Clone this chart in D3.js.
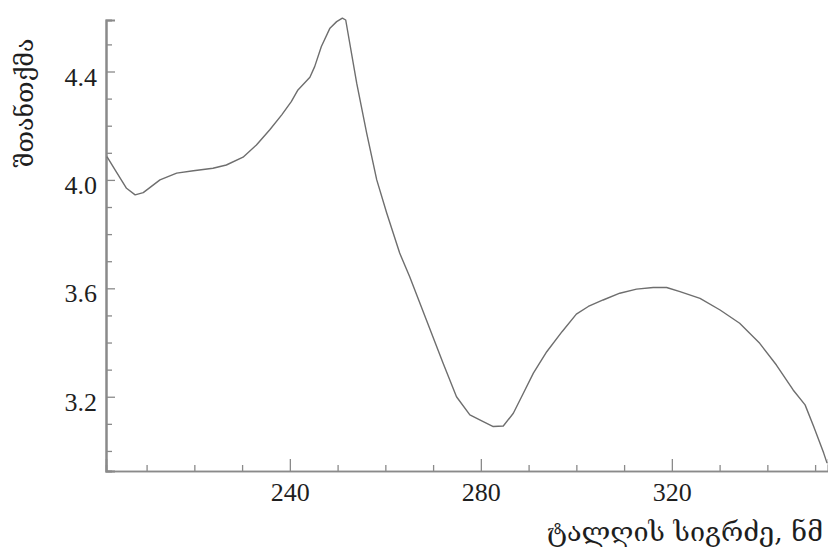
<!DOCTYPE html>
<html>
<head>
<meta charset="utf-8">
<script src="https://cdn.jsdelivr.net/npm/d3@7"></script>
<style>
  html, body { margin: 0; padding: 0; background: #fff; }
  svg { display: block; }
</style>
</head>
<body>
<svg id="chart" width="828" height="552"></svg>
<script>
// ---- data ----
const wavelength = [201.7, 203.4, 205.8, 207.6, 209.3, 212.8, 216.3, 219.8, 223.9, 226.7,
  230.2, 233.0, 235.8, 238.3, 240.3, 241.7, 244.2, 245.2, 246.6, 248.4,
  249.8, 251.0, 251.7, 254.0, 256.1, 258.2, 260.3, 263.0, 265.1, 268.6,
  272.1, 274.9, 277.7, 280.5, 282.6, 284.7, 286.8, 288.9, 291.0, 293.8,
  297.0, 300.0, 302.5, 305.6, 309.1, 312.6, 316.1, 318.9, 321.7, 325.9,
  330.1, 334.2, 338.4, 341.9, 345.4, 347.9, 349.7, 351.8, 352.5];
const absorbance = [4.086, 4.037, 3.969, 3.945, 3.953, 4.000, 4.025, 4.034, 4.043, 4.055,
  4.084, 4.129, 4.185, 4.240, 4.289, 4.332, 4.379, 4.418, 4.492, 4.560,
  4.584, 4.597, 4.590, 4.357, 4.172, 4.000, 3.877, 3.730, 3.643, 3.483,
  3.324, 3.200, 3.133, 3.108, 3.090, 3.092, 3.139, 3.213, 3.287, 3.366,
  3.440, 3.505, 3.533, 3.557, 3.582, 3.597, 3.603, 3.603, 3.588, 3.563,
  3.520, 3.471, 3.397, 3.317, 3.225, 3.170, 3.090, 2.992, 2.955];
const xMajorTicks = [240, 280, 320];
const xMinorTicks = [210, 220, 230, 250, 260, 270, 290, 300, 310, 330, 340, 350];
const yMajorTicks = [3.2, 3.6, 4.0, 4.4];
const yMinorTicks = [3.0, 3.1, 3.3, 3.4, 3.5, 3.7, 3.8, 3.9, 4.1, 4.2, 4.3, 4.5];
const xTitle = "ტალღის სიგრძე, ნმ";
const yTitle = "შთანთქმა";

// ---- layout ----
const svg = d3.select("#chart");
const plotLeft = 106, plotRight = 828, plotTop = 20, plotBottom = 471;
const x = d3.scaleLinear().domain([201.5, 352.7]).range([plotLeft, plotRight]);
const y = d3.scaleLinear().domain([2.926, 4.59]).range([plotBottom, plotTop]);

const axisColor = "#8a8a8a";
const textColor = "#1e1e1e";
const numFont = "'Liberation Serif', 'DejaVu Serif', serif";
const geoFont = "'DejaVu Serif', 'DejaVu Sans', serif";

// y axis (ticks pointing inward)
const yAxisMajor = d3.axisRight(y).tickValues(yMajorTicks).tickSize(9).tickFormat(d3.format(".1f"));
const yAxisMinor = d3.axisRight(y).tickValues(yMinorTicks).tickSize(6).tickFormat("");
const gyMinor = svg.append("g").attr("transform", `translate(${plotLeft},0)`).call(yAxisMinor);
const gy = svg.append("g").attr("transform", `translate(${plotLeft},0)`).call(yAxisMajor);
[gy, gyMinor].forEach(g => {
  g.select(".domain").attr("stroke", axisColor).attr("stroke-width", 2);
  g.selectAll(".tick line").attr("stroke", axisColor).attr("stroke-width", 1.3);
});
gy.selectAll(".tick text")
  .attr("x", -9).attr("dy", "0.52em")
  .attr("text-anchor", "end")
  .attr("fill", textColor)
  .style("font-family", numFont).style("font-size", "26px");

// x axis (ticks pointing up)
const xAxisMajor = d3.axisTop(x).tickValues(xMajorTicks).tickSize(12).tickFormat(d3.format("d"));
const xAxisMinor = d3.axisTop(x).tickValues(xMinorTicks).tickSize(6).tickFormat("");
const gxMinor = svg.append("g").attr("transform", `translate(0,${plotBottom})`).call(xAxisMinor);
const gx = svg.append("g").attr("transform", `translate(0,${plotBottom})`).call(xAxisMajor);
[gx, gxMinor].forEach(g => {
  g.select(".domain").attr("stroke", axisColor).attr("stroke-width", 1.6);
  g.selectAll(".tick line").attr("stroke", axisColor).attr("stroke-width", 1.3);
});
gx.selectAll(".tick text")
  .attr("y", 30).attr("dy", 0)
  .attr("text-anchor", "middle")
  .attr("fill", textColor)
  .style("font-family", numFont).style("font-size", "26px");

// curve
const line = d3.line().x(d => x(d[0])).y(d => y(d[1])).curve(d3.curveLinear);
svg.append("path")
  .datum(d3.zip(wavelength, absorbance))
  .attr("d", line)
  .attr("fill", "none")
  .attr("stroke", "#6e6e6e")
  .attr("stroke-width", 1.4)
  .attr("stroke-linejoin", "round");

// titles
svg.append("text")
  .attr("x", 823).attr("y", 541)
  .attr("text-anchor", "end")
  .attr("fill", textColor)
  .style("font-family", geoFont).style("font-size", "27px")
  .text(xTitle);

svg.append("text")
  .attr("transform", "translate(33,103) rotate(-90)")
  .attr("text-anchor", "middle")
  .attr("fill", textColor)
  .style("font-family", geoFont).style("font-size", "25px")
  .text(yTitle);
</script>
</body>
</html>
